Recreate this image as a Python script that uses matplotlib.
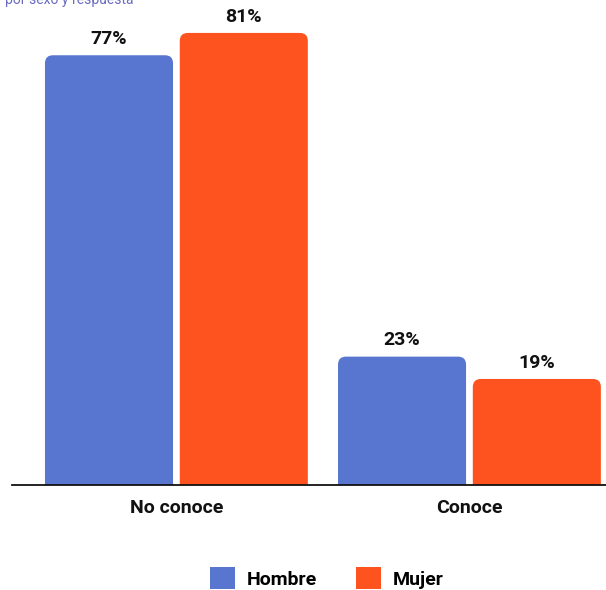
import matplotlib.pyplot as plt
import numpy as np
from matplotlib.patches import FancyBboxPatch, Patch

plt.rcParams['font.family'] = ['Roboto', 'DejaVu Sans']

categories = ['No conoce', 'Conoce']
series = ['Hombre', 'Mujer']
hombre = [77, 23]
mujer = [81, 19]
colors = ['#5876CF', '#FE531E']

fig = plt.figure(figsize=(6.06, 5.90), dpi=100)
ax = fig.add_axes([12 / 606, 1 - 485 / 590, 1 - 12 / 606, 485 / 590])

x = np.arange(len(categories))
width = 0.437
offset = 0.230
ymax = 86.9
ax.set_xlim(-0.561, 1.466)
ax.set_ylim(0, ymax)

# rounded top corners: radius in pixels converted to data units
px_x = 293.0
px_y = 485.0 / ymax
radius = 8.0
aspect = (radius / px_y) / (radius / px_x)

for vals, color, shift in [(hombre, colors[0], -offset), (mujer, colors[1], offset)]:
    bars = ax.bar(x + shift, vals, width, color=color, alpha=0)
    for b, v in zip(bars, vals):
        box = FancyBboxPatch((b.get_x(), -5), b.get_width(), v + 5,
                             boxstyle=f"round,pad=0,rounding_size={radius / px_x}",
                             mutation_aspect=aspect, facecolor=color, edgecolor='none')
        ax.add_patch(box)
        ax.text(b.get_x() + b.get_width() / 2, v + 1.3, f"{v}%", ha='center', va='bottom',
                fontsize=14, fontweight='bold', color='#111111')

for s in ['top', 'right', 'left']:
    ax.spines[s].set_visible(False)
ax.spines['bottom'].set_linewidth(1.3)
ax.spines['bottom'].set_color('#111111')
ax.set_yticks([])
ax.set_xticks(x)
ax.set_xticklabels(categories, fontsize=14, fontweight='bold', color='#111111')
ax.tick_params(axis='x', length=0, pad=10)

fig.text(5 / 606, 1.0, 'por sexo y respuesta', ha='left', va='center',
         fontsize=10, color='#6A6BBF')

handles = [Patch(facecolor=c, label=s) for c, s in zip(colors, series)]
fig.legend(handles=handles, loc='center', bbox_to_anchor=(327 / 606, 1 - 578 / 590),
           ncol=2, frameon=False, handlelength=1.3, handleheight=1.3,
           prop={'size': 14, 'weight': 'bold'}, columnspacing=2.0, handletextpad=0.6)

fig.savefig('out.png', dpi=100)
